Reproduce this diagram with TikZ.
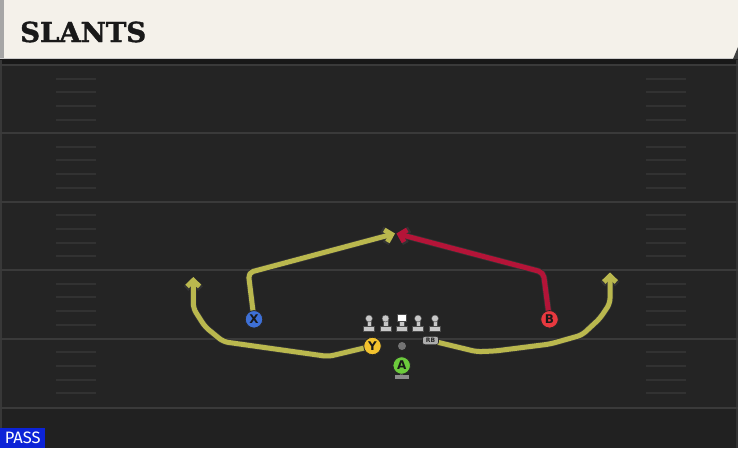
\documentclass[tikz,border=0pt]{standalone}
\usepackage{fontspec}
\setmainfont{DejaVu Sans}
\newfontfamily\titlefont[FakeBold=1.5]{DejaVu Serif}
\newfontfamily\passfont{Fira Sans}
\usetikzlibrary{arrows.meta}
\definecolor{fieldc}{RGB}{36,36,36}
\definecolor{bandc}{RGB}{24,24,24}
\definecolor{yardc}{RGB}{58,58,58}
\definecolor{hashc}{RGB}{50,50,50}
\definecolor{creamc}{RGB}{244,241,234}
\definecolor{passblue}{RGB}{12,35,215}
\definecolor{yelroute}{RGB}{186,184,78}
\definecolor{redroute}{RGB}{180,20,56}
\definecolor{xblue}{RGB}{62,112,214}
\definecolor{yyel}{RGB}{242,194,46}
\definecolor{agreen}{RGB}{108,203,60}
\definecolor{bred}{RGB}{232,57,63}
\definecolor{olc}{RGB}{200,200,200}
\pgfdeclarelayer{field}
\pgfdeclarelayer{routes}
\pgfsetlayers{field,routes,main}
\tikzset{
  player/.style={circle, minimum size=17.5pt, inner sep=0pt, draw=black!85, line width=0.8pt,
    fill=#1, font=\bfseries\fontsize{12}{12}\selectfont, text=black!90},
  routeo/.style={draw=black!80, line width=6.5pt, line join=round, rounded corners=5pt,
    -{Straight Barb[length=7pt,width=14.5pt]}},
  routec/.style={draw=#1, line width=5pt, line join=round, rounded corners=5pt,
    -{Straight Barb[length=6pt,width=12.5pt]}},
  olpic/.pic={\fill[olc, draw=black!70, line width=0.4pt] (-2.2,0) rectangle (2.2,10);
    \fill[olc, draw=black!70, line width=0.4pt] (-5.5,8) rectangle (5.5,12.8);
    \fill[olc, draw=black!70, line width=0.4pt] (0,0) circle (3.5);},
  centerpic/.pic={\fill[olc, draw=black!70, line width=0.4pt] (-2.2,0) rectangle (2.2,10);
    \fill[olc, draw=black!70, line width=0.4pt] (-5.5,8) rectangle (5.5,12.8);
    \fill[white, draw=black!70, line width=0.4pt] (-4.5,-4.5) rectangle (4.5,3);},
}
\begin{document}
\begin{tikzpicture}[x=1pt,y=-1pt]
\useasboundingbox (0,0) rectangle (738,448);
\begin{pgfonlayer}{field}
  \fill[fieldc] (0,0) rectangle (738,448);
  \fill[fieldc!92!black] (0,409) rectangle (738,448);
  \fill[bandc] (0,59) rectangle (738,64);
  \fill[black!78] (0,60) rectangle (2,448);
  \fill[black!80] (736,60) rectangle (738,448);
  \foreach \yy in {65,133,201.5,270,338.5,407.5}
    \draw[yardc, line width=2pt] (0,\yy) -- (738,\yy);
  \foreach \yy in {65,133,201.5,270,338.5}
    \foreach \k in {1,2,3,4} {
      \draw[hashc, line width=2pt] (56,\yy+13.7*\k) -- (96,\yy+13.7*\k);
      \draw[hashc, line width=2pt] (646,\yy+13.7*\k) -- (686,\yy+13.7*\k);
    }
  % header
  \fill[creamc] (0,0) rectangle (738,59);
  \fill[black!35] (0,0) rectangle (4,59);
  \fill[black!20] (0,57.5) rectangle (738,59);
  \fill[black!75] (738,47) -- (738,59) -- (733,59) -- cycle;
\end{pgfonlayer}
\node[anchor=base west, inner sep=0pt, text=black!90,
  font=\titlefont\bfseries\fontsize{27.5}{27.5}\selectfont] (title) at (20,42) {SLANTS};
\node[anchor=south west, fill=passblue, text=white, minimum width=45pt, minimum height=20pt,
  inner sep=0pt, font=\passfont\fontsize{16.5}{16.5}\selectfont] (pass) at (0,448) {PASS};
% offensive line
\pic (ol1) at (369,318.5) {olpic};
\pic (ol2) at (385.5,318.5) {olpic};
\pic (ol3) at (401.5,318.5) {centerpic};
\pic (ol4) at (418,318.5) {olpic};
\pic (ol5) at (435,318.5) {olpic};
% ball
\node[circle, fill=black!55, minimum size=8pt, inner sep=0pt] (ball) at (402,346) {};
% A base
\fill[black!45] (400.3,372) rectangle (403.3,375.5);
\fill[black!45] (395,375) rectangle (409,378.5);
% players
\node[player=xblue] (X) at (254,319.3) {X};
\node[player=yyel] (Y) at (372.5,346) {Y};
\node[player=agreen] (A) at (401.7,365.5) {A};
\node[player=bred] (B) at (549.5,319.3) {B};
\node[rounded corners=2.5pt, fill=black!32, draw=black!85, line width=0.6pt,
  minimum width=16pt, minimum height=8.5pt, inner sep=0pt, text=black!85,
  font=\bfseries\fontsize{6}{6}\selectfont] (RB) at (430.5,340.5) {RB};
% route ends
\coordinate (xend) at (395,233.5);
\coordinate (bend) at (396.5,233.5);
\coordinate (yend) at (193.3,277);
\coordinate (rbend) at (610,272.5);
\begin{pgfonlayer}{routes}
  \draw[routeo] (X.center) -- (248.3,272.7) -- (xend);
  \draw[routec=yelroute] (X.center) -- (248.3,272.7) -- (xend);
  \draw[routeo] (B.center) -- (543.3,272.3) -- (bend);
  \draw[routec=redroute] (B.center) -- (543.3,272.3) -- (bend);
  \draw[routeo] (Y.center) -- (328.3,356.5) -- (223.3,341.7) -- (205,326.7) -- (193.3,308.3) -- (yend);
  \draw[routec=yelroute] (Y.center) -- (328.3,356.5) -- (223.3,341.7) -- (205,326.7) -- (193.3,308.3) -- (yend);
  \draw[routeo] (RB.center) -- (476.7,351.7) -- (495,351) -- (550,344) -- (582,335) -- (600,318.3) -- (610,303.3) -- (rbend);
  \draw[routec=yelroute] (RB.center) -- (476.7,351.7) -- (495,351) -- (550,344) -- (582,335) -- (600,318.3) -- (610,303.3) -- (rbend);
\end{pgfonlayer}
\end{tikzpicture}
\end{document}
